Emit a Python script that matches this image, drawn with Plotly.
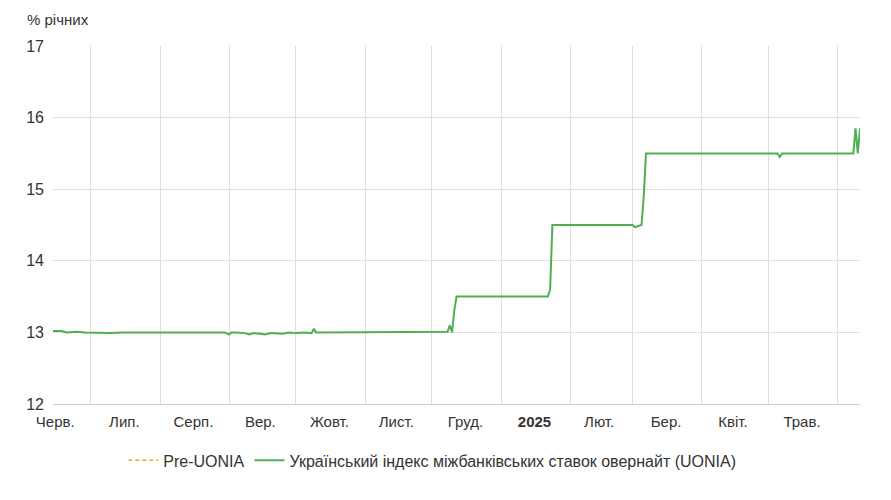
import plotly.graph_objects as go

dates = ["2024-06-14","2024-06-18","2024-06-20","2024-06-25","2024-06-28","2024-07-05","2024-07-10","2024-07-15",
 "2024-08-15","2024-08-30","2024-09-01","2024-09-02","2024-09-04","2024-09-08","2024-09-10","2024-09-12","2024-09-15",
 "2024-09-17","2024-09-20","2024-09-25","2024-09-28","2024-10-01","2024-10-05","2024-10-08","2024-10-09","2024-10-10",
 "2024-10-11","2024-11-15","2024-12-01","2024-12-04","2024-12-08","2024-12-09","2024-12-10","2024-12-11","2024-12-12",
 "2024-12-13","2024-12-14","2024-12-20","2025-01-10","2025-01-22","2025-01-23","2025-01-24","2025-01-27","2025-02-20",
 "2025-03-01","2025-03-02","2025-03-05","2025-03-06","2025-03-07","2025-03-08","2025-03-20","2025-04-01","2025-05-05",
 "2025-05-06","2025-05-07","2025-05-08","2025-05-20","2025-06-05","2025-06-08","2025-06-09","2025-06-10","2025-06-11"]
uonia = [13.02,13.02,13.0,13.01,13.0,12.99,12.99,13.0,
 13.0,13.0,12.97,13.0,13.0,12.99,12.97,12.99,12.98,
 12.97,12.99,12.98,13.0,12.99,13.0,12.99,13.05,13.0,
 13.0,13.0,13.0,13.0,13.01,13.1,13.0,13.3,13.5,
 13.5,13.5,13.5,13.5,13.5,13.6,14.5,14.5,14.5,
 14.5,14.47,14.5,14.9,15.5,15.5,15.5,15.49,15.5,
 15.45,15.5,15.5,15.5,15.5,15.5,15.85,15.5,15.85]

label_pos = ["2024-06-15","2024-07-16","2024-08-16","2024-09-15","2024-10-16","2024-11-15","2024-12-16",
             "2025-01-16","2025-02-14","2025-03-16","2025-04-15","2025-05-16"]
labels = ["Черв.","Лип.","Серп.","Вер.","Жовт.","Лист.","Груд.","<b>2025</b>","Лют.","Бер.","Квіт.","Трав."]

fig = go.Figure()
fig.add_trace(go.Scatter(x=[dates[0]], y=[None], name="Pre-UONIA", mode="lines",
                         line=dict(color="#f5a623", width=1.5, dash="4px,3px")))
fig.add_trace(go.Scatter(x=dates, y=uonia, name="Український індекс міжбанківських ставок овернайт (UONIA)",
                         mode="lines", line=dict(color="#4caf50", width=2)))

fig.update_layout(
    width=891, height=500, paper_bgcolor="white", plot_bgcolor="white",
    margin=dict(l=45, r=39, t=38, b=104),
    font=dict(family="Liberation Sans, Arial", size=15, color="#333"),
    showlegend=True,
    legend=dict(orientation="h", x=0.47, xanchor="center", y=-0.11, yanchor="top", font=dict(size=16)),
    annotations=[dict(text="% річних", xref="paper", yref="paper", x=-0.035, y=1.045, xanchor="left",
                      yanchor="bottom", showarrow=False, font=dict(size=15))],
)
fig.update_xaxes(type="date", automargin=False, range=["2024-06-14","2025-06-11"], tickvals=label_pos,
                 ticktext=labels, showgrid=False, showline=True, linecolor="#ccc", ticks="", tickfont=dict(size=15),
                 ticklabelstandoff=4,
                 minor=dict(tick0="2024-06-01", dtick="M1", showgrid=True, gridcolor="#e0e0e0", ticks=""))
fig.update_yaxes(automargin=False, range=[12,17], dtick=1, showgrid=True, gridcolor="#e0e0e0", zeroline=False,
                 tickfont=dict(size=16), ticklabelstandoff=8)
fig.write_html("out.html")
